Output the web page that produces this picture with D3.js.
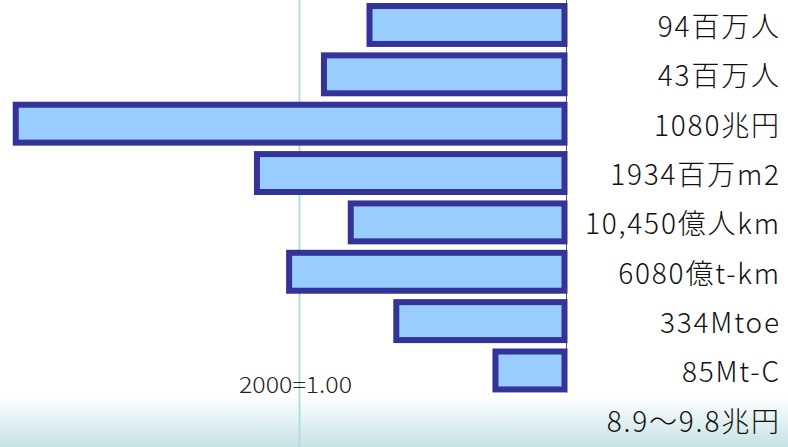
<!DOCTYPE html>
<html>
<head>
<meta charset="utf-8">
<script src="https://cdn.jsdelivr.net/npm/d3@7"></script>
<style>
  html, body { margin: 0; padding: 0; background: #ffffff; }
  svg { display: block; }
</style>
</head>
<body>
<svg id="chart" width="788" height="447"></svg>
<script>
// Row labels (value with unit) from top to bottom
const labels = [
  "94百万人",
  "43百万人",
  "1080兆円",
  "1934百万m2",
  "10,450億人km",
  "6080億t-km",
  "334Mtoe",
  "85Mt-C",
  "8.9～9.8兆円"
];

// Index relative to the year 2000 (2000 = 1.00); last row has no bar
const ratios = [0.75, 0.92, 2.07, 1.17, 0.82, 1.05, 0.65, 0.28, null];

const baseLabel = "2000=1.00";

const W = 788, H = 447;
const svg = d3.select("#chart");

// Soft teal wash along the bottom edge
const defs = svg.append("defs");
const grad = defs.append("linearGradient")
  .attr("id", "bottomWash")
  .attr("x1", 0).attr("y1", 0).attr("x2", 0).attr("y2", 1);
grad.append("stop").attr("offset", "0%").attr("stop-color", "#ffffff");
grad.append("stop").attr("offset", "100%").attr("stop-color", "#c6e2e4");

svg.append("rect").attr("width", W).attr("height", H).attr("fill", "#ffffff");
svg.append("rect")
  .attr("x", 0).attr("y", 396)
  .attr("width", W).attr("height", H - 396)
  .attr("fill", "url(#bottomWash)");

// Bars grow leftward from the baseline
const x = d3.scaleLinear().domain([0, 1]).range([567.5, 299.5]);
const y = d3.scaleBand()
  .domain(labels)
  .range([0.3, 444.5])
  .paddingInner(0.11)
  .paddingOuter(0.055);

const rows = labels.map((l, i) => ({ label: l, v: ratios[i] }));

// Reference line at index 1.00
svg.append("line")
  .attr("x1", x(1)).attr("x2", x(1))
  .attr("y1", 0).attr("y2", H)
  .attr("stroke", "#b6dcde")
  .attr("stroke-width", 2);

svg.append("text")
  .attr("x", 239).attr("y", 393)
  .attr("font-family", "'Noto Sans CJK JP', 'Noto Sans', sans-serif")
  .attr("font-weight", 300)
  .attr("font-size", 22)
  .attr("fill", "#222")
  .attr("textLength", 113)
  .attr("lengthAdjust", "spacingAndGlyphs")
  .text(baseLabel);

// Baseline
svg.append("line")
  .attr("x1", x(0) - 1).attr("x2", x(0) - 1)
  .attr("y1", 0).attr("y2", y(labels[7]) + y.bandwidth())
  .attr("stroke", "#555")
  .attr("stroke-width", 1);

const sw = 6;
svg.append("g")
  .selectAll("rect")
  .data(rows.filter(d => d.v != null))
  .join("rect")
  .attr("x", d => x(d.v) + sw / 2)
  .attr("y", d => y(d.label) + sw / 2)
  .attr("width", d => x(0) - x(d.v) - sw)
  .attr("height", y.bandwidth() - sw)
  .attr("fill", "#99ccff")
  .attr("stroke", "#333399")
  .attr("stroke-width", sw);

const ls = 1.8;
svg.append("g")
  .selectAll("text")
  .data(rows)
  .join("text")
  .attr("x", 779 + ls)
  .attr("y", d => y(d.label) + y.bandwidth() / 2 + 12)
  .attr("text-anchor", "end")
  .attr("font-family", "'Noto Sans CJK JP', sans-serif")
  .attr("font-weight", 300)
  .attr("font-size", 28)
  .attr("letter-spacing", ls)
  .attr("fill", "#111")
  .text(d => d.label);
</script>
</body>
</html>
